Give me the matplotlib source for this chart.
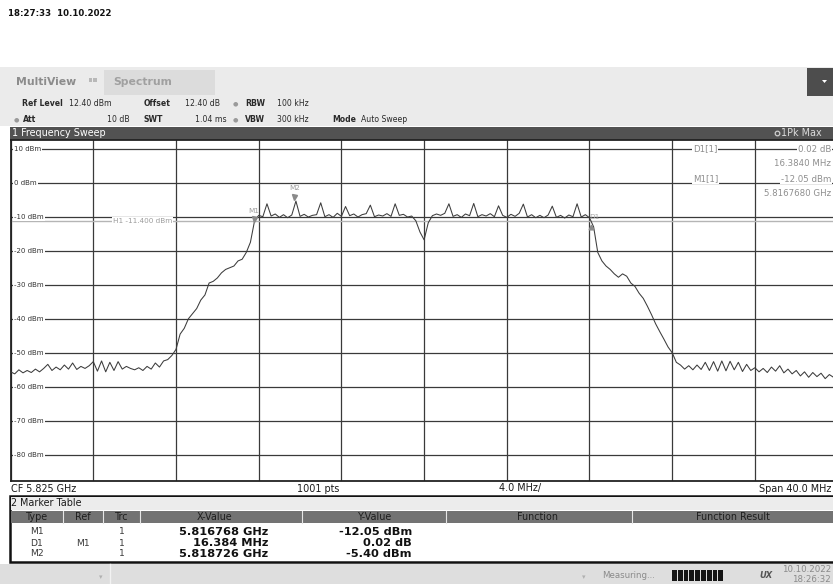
import numpy as np
import matplotlib
matplotlib.use("Agg")
import matplotlib.pyplot as plt
from matplotlib.patches import Rectangle, Polygon
import matplotlib.transforms as mtransforms

# ---------------- data ----------------
center_ghz = 5.825
span_mhz = 40.0
div_mhz = 4.0
ref_level = 12.4
range_db = 100.0
n_pts_label = "1001 pts"
step_mhz = 0.2  # spacing of the values

seg_noise_left = [  # 0.0 .. 7.8 MHz from start
    -55.6, -56.2, -55.0, -55.9, -55.2, -55.8, -54.8, -55.6, -54.6, -53.4,
    -55.2, -54.2, -55.0, -53.6, -54.8, -53.0, -54.9, -54.0, -54.6, -53.8,
    -52.6, -55.4, -52.4, -55.6, -52.8, -55.2, -52.6, -54.8, -54.0, -54.6,
    -55.0, -54.4, -55.2, -54.0, -54.8, -53.0, -54.2, -52.4, -52.0, -50.8]
seg_rise = [  # 8.0 .. 11.8
    -49.0, -44.5, -42.8, -40.0, -38.5, -37.0, -34.5, -33.0, -29.5, -29.0,
    -28.0, -26.5, -25.5, -25.0, -24.5, -23.0, -22.5, -20.5, -17.5, -11.2]
seg_top = [  # 12.0 .. 28.2
    -9.6, -10.0, -6.2, -9.8, -9.2, -10.2, -9.4, -10.3, -9.5, -5.4,
    -9.9, -9.3, -10.1, -9.6, -9.4, -5.9, -10.0, -9.4, -10.2, -9.0,
    -9.9, -7.0, -9.7, -9.2, -10.1, -9.4, -9.1, -6.6, -10.0, -9.5,
    -9.8, -9.1, -9.9, -6.2, -9.6, -9.3, -10.1, -9.8, -11.2, -14.5,
    -16.8, -11.8, -9.7, -9.2, -9.6, -9.0, -6.2, -9.9, -9.4, -10.2,
    -9.2, -9.7, -6.1, -10.0, -9.4, -9.8, -9.1, -10.0, -6.8, -9.6,
    -10.2, -9.3, -9.9, -9.0, -6.3, -10.1, -9.4, -10.3, -9.6, -10.3,
    -9.5, -6.9, -10.2, -9.6, -10.4, -9.5, -10.0, -6.2, -10.1, -9.4,
    -10.3, -13.0]
seg_fall = [  # 28.4 .. 32.2
    -20.5, -23.0, -24.5, -25.5, -26.8, -27.8, -26.8, -27.5, -29.5, -30.5,
    -32.5, -34.0, -36.3, -38.8, -41.5, -43.8, -46.0, -48.3, -50.0, -52.8]
seg_noise_right = [  # 32.4 .. 40.0
    -53.6, -54.8, -53.8, -55.0, -53.6, -54.9, -52.8, -55.2, -52.6, -55.4,
    -52.4, -55.3, -52.5, -55.0, -52.8, -55.5, -53.4, -55.2, -54.4, -55.6,
    -54.6, -55.8, -54.2, -55.4, -53.8, -55.9, -54.8, -56.2, -55.2, -56.8,
    -55.6, -57.2, -55.8, -57.0, -56.0, -57.6, -56.4, -57.2, -56.6]

trace_dbm = np.array(seg_noise_left + seg_rise + seg_top + seg_fall + seg_noise_right)
if len(trace_dbm) != 201:
    raise SystemExit("trace length %d" % len(trace_dbm))
trace_mhz = np.arange(len(trace_dbm)) * step_mhz  # offset from start frequency

dbm_ticks = [10, 0, -10, -20, -30, -40, -50, -60, -70, -80]
h1_level = -11.4

marker_type = ["M1", "D1", "M2"]
marker_ref = ["", "M1", ""]
marker_trc = ["1", "1", "1"]
m1_freq_ghz = 5.816768
d1_delta_mhz = 16.384
m2_freq_ghz = 5.818726
m1_level = -12.05
d1_delta_db = 0.02
m2_level = -5.40
marker_x_text = ["%.6f GHz" % m1_freq_ghz, "%.3f MHz" % d1_delta_mhz, "%.6f GHz" % m2_freq_ghz]
marker_y_text = ["%.2f dBm" % m1_level, "%.2f dB" % d1_delta_db, "%.2f dBm" % m2_level]

# ---------------- figure ----------------
W, H = 833, 584
fig = plt.figure(figsize=(W / 100, H / 100), dpi=100, facecolor="white")
FONT = "DejaVu Sans"

bg = fig.add_axes([0, 0, 1, 1], zorder=0)
bg.set_xlim(0, W); bg.set_ylim(H, 0); bg.axis("off")
top = fig.add_axes([0, 0, 1, 1], zorder=5)
top.set_xlim(0, W); top.set_ylim(H, 0); top.axis("off")
top.patch.set_alpha(0)


def rect(a, x0, y0, x1, y1, fc, ec="none", lw=0, z=1):
    a.add_patch(Rectangle((x0, y0), x1 - x0, y1 - y0, fc=fc, ec=ec, lw=lw, zorder=z))


def txt(x, y, s, size=5.6, color="#2a2a2a", weight="normal", ha="left", a=None, **kw):
    (a or top).text(x, y, s, fontsize=size, color=color, fontweight=weight,
                    ha=ha, va="center", family=FONT, **kw)


# timestamp
txt(8, 14, "18:27:33  10.10.2022", size=6.2, color="#111111", weight="bold")

# header area
rect(bg, 0, 67, W, 126, "#ebebeb")
rect(bg, 104, 69.5, 215, 95, "#dcdcdc")
txt(16, 82, "MultiView", size=7.8, color="#8c8c8c", weight="bold", a=bg)
rect(bg, 89, 78, 92.5, 82, "#b8b8b8", z=2)
rect(bg, 93.5, 78, 97, 82, "#b8b8b8", z=2)
txt(113, 82, "Spectrum", size=7.8, color="#a0a0a0", weight="bold", a=bg)
rect(bg, 807, 68, W, 96, "#4d4d4d")
bg.add_patch(Polygon([[822, 80], [827, 80], [824.5, 83]], closed=True, fc="white", ec="none", zorder=3))

# settings lines
y1, y2 = 103.5, 120
txt(22.5, y1, "Ref Level", weight="bold")
txt(69, y1, "%.2f dBm" % ref_level)
txt(144, y1, "Offset", weight="bold")
txt(185, y1, "12.40 dB")
txt(235, y1, "\u25CF", size=4.5, color="#9a9a9a", ha="center")
txt(245, y1, "RBW", weight="bold")
txt(277.5, y1, "100 kHz")
txt(16, y2, "\u25CF", size=4.5, color="#9a9a9a", ha="center")
txt(22.5, y2, "Att", weight="bold")
txt(129.5, y2, "10 dB", ha="right")
txt(144, y2, "SWT", weight="bold")
txt(227, y2, "1.04 ms", ha="right")
txt(235, y2, "\u25CF", size=4.5, color="#9a9a9a", ha="center")
txt(245, y2, "VBW", weight="bold")
txt(277.5, y2, "300 kHz")
txt(332, y2, "Mode", weight="bold")
txt(361, y2, "Auto Sweep")

# title bar of the sweep window
rect(bg, 10, 126.5, W, 140.5, "#525252")
txt(12, 133.5, "1 Frequency Sweep", size=6.9, color="white", a=bg)
bg.add_patch(matplotlib.patches.Circle((777.5, 133.5), 2.3, fc="none", ec="#cfcfcf", lw=0.9, zorder=3))
txt(781, 133.5, "1Pk Max", size=6.9, color="#dcdcdc", a=bg)

# ---------------- spectrum axes ----------------
left_px, right_px, top_px, bot_px = 10.6, 837.6, 140.5, 480.7
ax = fig.add_axes([left_px / W, (H - bot_px) / H, (right_px - left_px) / W, (bot_px - top_px) / H], zorder=2)
ax.set_facecolor("white")
ax.set_xlim(0, span_mhz)
ax.set_ylim(ref_level - range_db, ref_level)
ax.set_xticks(np.arange(0, span_mhz + 0.1, div_mhz))
ax.set_yticks(dbm_ticks)
ax.tick_params(length=0, labelbottom=False, labelleft=False)
ax.grid(True, color="#3a3a3a", lw=0.9, zorder=0)
ax.set_axisbelow(True)
for s in ax.spines.values():
    s.set_color("#222222"); s.set_linewidth(1.3)

yl_tr = mtransforms.blended_transform_factory(ax.transAxes, ax.transData)
for v in dbm_ticks:
    ax.text(0.0045, v, "%d dBm" % v, transform=yl_tr, fontsize=5.0, color="#333333",
            ha="left", va="center", family=FONT, zorder=4,
            bbox=dict(boxstyle="square,pad=0.12", fc="white", ec="none"))

# H1 display line
ax.axhline(h1_level, color="#b5b5b5", lw=1.0, zorder=1)
ax.text(4.95, h1_level, "H1 %.3f dBm" % h1_level, fontsize=5.2, color="#9c9c9c",
        ha="left", va="center", family=FONT, zorder=4,
        bbox=dict(boxstyle="square,pad=0.15", fc="white", ec="none"))

# trace
ax.plot(trace_mhz, trace_dbm, color="#3c3c3c", lw=0.75, zorder=3)

start_ghz = center_ghz - span_mhz / 2000.0
m1_x = (m1_freq_ghz - start_ghz) * 1000.0
m2_x = (m2_freq_ghz - start_ghz) * 1000.0
d1_x = m1_x + d1_delta_mhz
d1_level = m1_level + d1_delta_db

mk_col = "#8a8a8a"
tri_down = mtransforms.offset_copy(ax.transData, fig=fig, x=0, y=3.2, units="points")
tri_up = mtransforms.offset_copy(ax.transData, fig=fig, x=-1.0, y=-2.3, units="points")
ax.plot([m1_x, m2_x], [m1_level, m2_level], ls="none", marker="v", ms=3.6, color=mk_col,
        transform=tri_down, zorder=5)
ax.plot([d1_x], [d1_level], ls="none", marker="^", ms=3.4, color=mk_col, transform=tri_up, zorder=5)
ax.annotate("M1", (m1_x, m1_level), xytext=(-0.5, 9.3), textcoords="offset points",
            fontsize=5.2, color="#9c9c9c", ha="center", va="center", family=FONT, zorder=5)
ax.annotate("M2", (m2_x, m2_level), xytext=(0, 9.5), textcoords="offset points",
            fontsize=5.2, color="#9c9c9c", ha="center", va="center", family=FONT, zorder=5)
ax.annotate("D1", (d1_x, d1_level), xytext=(1.5, 4.5), textcoords="offset points",
            fontsize=5.2, color="#a8a8a8", ha="center", va="center", family=FONT, zorder=5)

# marker info block (top right)
info_col = "#8e8e8e"
bb = dict(boxstyle="square,pad=0.1", fc="white", ec="none")
txt(693, 149, "D1[1]", size=6.2, color=info_col, bbox=bb)
txt(831, 149, "%.2f dB" % d1_delta_db, size=6.2, color=info_col, ha="right", bbox=bb)
txt(831, 164, "%.4f MHz" % d1_delta_mhz, size=6.2, color=info_col, ha="right")
txt(693, 179, "M1[1]", size=6.2, color=info_col, bbox=bb)
txt(831, 179, "%.2f dBm" % m1_level, size=6.2, color=info_col, ha="right", bbox=bb)
txt(831, 194, "%.7f GHz" % m1_freq_ghz, size=6.2, color=info_col, ha="right")

# footer of sweep window
fy = 488.5
txt(11, fy, "CF %.3f GHz" % center_ghz, size=6.9, color="#1a1a1a")
txt(297, fy, n_pts_label, size=6.9, color="#1a1a1a")
txt(499, fy, "%.1f MHz/" % div_mhz, size=6.9, color="#1a1a1a")
txt(831, fy, "Span %.1f MHz" % span_mhz, size=6.9, color="#1a1a1a", ha="right")

# ---------------- marker table ----------------
rect(bg, 10, 496, W + 2, 562, "white", ec="#111111", lw=1.8, z=1)
rect(bg, 11, 497, W, 510, "#ececec", z=2)
txt(11.5, 503.5, "2 Marker Table", size=6.9, color="#1a1a1a", a=bg)
rect(bg, 11, 510.5, W, 523, "#737373", z=2)
for sx in [63, 103, 140, 302, 446, 632]:
    bg.plot([sx, sx], [510.5, 523], color="#e6e6e6", lw=0.8, zorder=3)
hy = 517
hdr = [(37, "Type"), (83, "Ref"), (122, "Trc"), (215, "X-Value"), (375, "Y-Value"),
       (538, "Function"), (733, "Function Result")]
for hx, hs in hdr:
    txt(hx, hy, hs, size=6.9, color="#1e1e1e", ha="center", a=bg)

row_y = [532, 543, 554]
for i in range(len(marker_type)):
    ry = row_y[i]
    txt(37, ry, marker_type[i], size=6.6, color="#3a3a3a", ha="center")
    txt(83, ry, marker_ref[i], size=6.6, color="#3a3a3a", ha="center")
    txt(122, ry, marker_trc[i], size=6.6, color="#3a3a3a", ha="center")
    txt(268, ry, marker_x_text[i], size=8.2, color="#111111", weight="bold", ha="right")
    txt(412, ry, marker_y_text[i], size=8.2, color="#111111", weight="bold", ha="right")

# ---------------- status bar ----------------
rect(bg, 0, 563.5, W, H, "#dedede")
bg.plot([110, 110], [564, H], color="#f2f2f2", lw=1.0, zorder=2)
txt(101, 577, "\u25BE", size=5, color="#b0b0b0", ha="center", a=bg)
txt(584, 577, "\u25BE", size=5, color="#b0b0b0", ha="center", a=bg)
txt(602, 575.5, "Measuring...", size=6.2, color="#8a8a8a", a=bg)
for k in range(9):
    rect(bg, 672 + k * 5.8, 570, 672 + k * 5.8 + 4.8, 581, "#141414", z=2)
txt(766, 576, "UX", size=6.0, color="#555555", weight="bold", ha="center", a=bg,
    style="italic")
txt(831, 570, "10.10.2022", size=6.2, color="#8a8a8a", ha="right", a=bg)
txt(831, 579.5, "18:26:32", size=6.2, color="#8a8a8a", ha="right", a=bg)

fig.savefig("out.png", dpi=100, facecolor="white")
